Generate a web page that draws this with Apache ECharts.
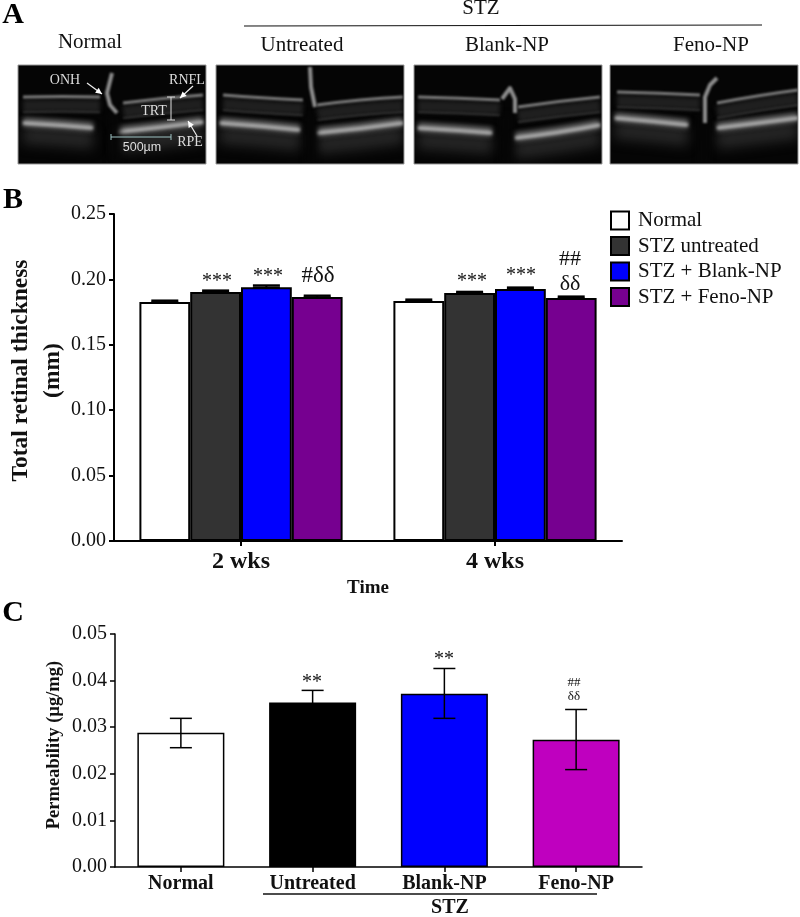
<!DOCTYPE html>
<html>
<head>
<meta charset="utf-8">
<title>Retinal thickness and permeability</title>
<script src="https://cdn.jsdelivr.net/npm/echarts@6/dist/echarts.min.js"></script>
<style>
  html, body { margin: 0; padding: 0; background: #fff; }
  #chart { width: 800px; height: 917px; }
</style>
</head>
<body>
<div id="chart"></div>
<script>
// panel B: total retinal thickness
const weeks = ['2 wks', '4 wks'];
const thicknessGroups = ['Normal', 'STZ untreated', 'STZ + Blank-NP', 'STZ + Feno-NP'];
const thicknessColors = ['#ffffff', '#333333', '#0000ff', '#760090'];
const normalThickness = [0.1827, 0.1835];
const untreatedThickness = [0.1904, 0.1896];
const blankThickness = [0.1940, 0.1927];
const fenoThickness = [0.1865, 0.1858];
const normalThicknessTop = [0.1839, 0.1847];
const untreatedThicknessTop = [0.1916, 0.1906];
const blankThicknessTop = [0.1955, 0.1939];
const fenoThicknessTop = [0.1877, 0.1870];

// panel C: permeability
const permGroups = ['Normal', 'Untreated', 'Blank-NP', 'Feno-NP'];
const permColors = ['#ffffff', '#000000', '#0000ff', '#bf00bf'];
const permValues = [0.0288, 0.0353, 0.0372, 0.0273];
const permLow = [0.0256, 0.0325, 0.0319, 0.0209];
const permHigh = [0.0319, 0.0379, 0.0426, 0.0338];

const SERIF = '"Liberation Serif", "Times New Roman", serif';
const B_BAR = 50.8;

let chart = echarts.init(document.getElementById('chart'));

// fake OCT scans, painted on a small canvas and handed over as graphic images
const scans = [
  { x: 18, gap: 95, nerve: [[[5, 32], [45, 31], [82, 32]], [[105, 38], [145, 33], [185, 30]]],
    rpe: [[[5, 58], [40, 60], [75, 63]], [[99, 67], [140, 63], [185, 57]]],
    head: [[94, 8], [89, 28], [92, 40], [99, 48]] },
  { x: 216, gap: 93, nerve: [[[7, 30], [45, 33], [87, 35]], [[101, 40], [145, 34], [187, 32]]],
    rpe: [[[4, 58], [45, 61], [84, 65]], [[101, 68], [145, 64], [187, 58]]],
    head: [[94, 2], [95, 22], [99, 42]] },
  { x: 414, gap: 90, nerve: [[[4, 32], [45, 33], [86, 35]], [[104, 42], [145, 36], [186, 32]]],
    rpe: [[[4, 63], [40, 65], [78, 68]], [[101, 73], [145, 68], [186, 60]]],
    head: [[88, 34], [96, 23], [101, 34], [101, 48]] },
  { x: 610, gap: 92, nerve: [[[7, 27], [50, 28], [90, 30]], [[107, 38], [150, 30], [188, 25]]],
    rpe: [[[5, 53], [40, 56], [78, 60]], [[107, 63], [150, 58], [188, 53]]],
    head: [[107, 13], [100, 20], [95, 32], [95, 58]] }
];

function strokeLine(ctx, pts, width, color, blur) {
  ctx.filter = 'blur(' + blur + 'px)';
  ctx.strokeStyle = color;
  ctx.lineWidth = width;
  ctx.lineCap = 'butt';
  ctx.beginPath();
  ctx.moveTo(pts[0][0], pts[0][1]);
  ctx.quadraticCurveTo(pts[1][0], pts[1][1], pts[pts.length - 1][0], pts[pts.length - 1][1]);
  ctx.stroke();
}

function paintScan(scan) {
  let c = document.createElement('canvas');
  c.width = 188;
  c.height = 99;
  let ctx = c.getContext('2d');
  ctx.fillStyle = '#050505';
  ctx.fillRect(0, 0, 188, 99);
  scan.rpe.forEach(function (r) {
    strokeLine(ctx, r.map(p => [p[0], p[1] + 12]), 18, '#262626', 6);
    strokeLine(ctx, r.map(p => [p[0], p[1] - 1]), 9, '#6a6a6a', 2.5);
    strokeLine(ctx, r, 3, '#b4b4b4', 1.5);
  });
  scan.nerve.forEach(function (n) {
    strokeLine(ctx, n.map(p => [p[0], p[1] + 9]), 12, '#1f1f1f', 2);
    strokeLine(ctx, n.map(p => [p[0], p[1] + 15]), 1.5, '#3a3a3a', 1);
    strokeLine(ctx, n, 3, '#7c7c7c', 1.2);
  });
  // dark shadow under the nerve head
  ctx.filter = 'blur(3px)';
  ctx.fillStyle = '#060606';
  ctx.fillRect(scan.gap - 3, 50, 10, 49);
  ctx.lineJoin = 'round';
  ctx.filter = 'blur(1.2px)';
  ctx.strokeStyle = '#8e8e8e';
  ctx.lineWidth = 4;
  ctx.beginPath();
  scan.head.forEach((p, i) => i ? ctx.lineTo(p[0], p[1]) : ctx.moveTo(p[0], p[1]));
  ctx.stroke();
  return c;
}

function text(x, y, str, size, extra) {
  return {
    type: 'text', x: x, y: y, silent: true,
    style: Object.assign({
      text: str, font: size + 'px ' + SERIF, fill: '#111',
      align: 'center', verticalAlign: 'middle'
    }, extra || {})
  };
}

function rule(x1, y1, x2, y2, color, width) {
  return {
    type: 'line', silent: true,
    shape: { x1: x1, y1: y1, x2: x2, y2: y2 },
    style: { stroke: color || '#111', lineWidth: width || 1.2 }
  };
}

function arrow(x1, y1, x2, y2) {
  let a = Math.atan2(y2 - y1, x2 - x1);
  let head = [[x2, y2], [x2 - 7 * Math.cos(a - 0.45), y2 - 7 * Math.sin(a - 0.45)],
    [x2 - 7 * Math.cos(a + 0.45), y2 - 7 * Math.sin(a + 0.45)]];
  return [rule(x1, y1, x2, y2, '#eee', 1.2),
    { type: 'polygon', silent: true, shape: { points: head }, style: { fill: '#fff' } }];
}

const LABEL_OCT = '#ddd';
let graphics = [];
scans.forEach(function (s) {
  graphics.push({
    type: 'image', x: s.x, y: 65, silent: true,
    style: { image: paintScan(s), width: 188, height: 99 }
  });
  graphics.push({
    type: 'rect', silent: true, shape: { x: s.x, y: 65, width: 188, height: 99 },
    style: { fill: 'none', stroke: '#999', lineWidth: 1 }
  });
});

graphics.push(
  // panel letters
  text(13, 15, 'A', 30, { font: 'bold 30px ' + SERIF, fill: '#000' }),
  text(13, 200, 'B', 30, { font: 'bold 30px ' + SERIF, fill: '#000' }),
  text(13, 613, 'C', 30, { font: 'bold 30px ' + SERIF, fill: '#000' }),

  // panel A headings
  text(90, 42, 'Normal', 21),
  text(302, 45, 'Untreated', 21),
  text(507, 45, 'Blank-NP', 21),
  text(711, 45, 'Feno-NP', 21),
  text(481, 8, 'STZ', 21),
  rule(244, 26, 762, 25),

  // labels inside the first scan
  text(65, 80, 'ONH', 14, { fill: LABEL_OCT }),
  text(187, 80, 'RNFL', 14, { fill: LABEL_OCT }),
  text(154, 111, 'TRT', 14, { fill: LABEL_OCT }),
  text(190, 142, 'RPE', 14, { fill: LABEL_OCT }),
  text(142, 148, '500µm', 12, { fill: LABEL_OCT, font: '12.5px "Liberation Sans", sans-serif' }),
  rule(171, 97, 171, 120, '#ddd', 1), rule(167, 97, 175, 97, '#ddd', 1), rule(167, 120, 175, 120, '#ddd', 1),
  rule(111, 137, 171, 137, '#9fc4c4', 1), rule(111, 134, 111, 140, '#9fc4c4', 1), rule(171, 134, 171, 140, '#9fc4c4', 1),
  ...arrow(87, 83, 102, 94),
  ...arrow(193, 86, 180, 98),
  ...arrow(197, 136, 188, 121),

  // panel B notes
  text(217, 282, '***', 20), text(268, 277, '***', 20), text(318, 276, '#δδ', 23),
  text(472, 282, '***', 20), text(521, 276, '***', 20),
  text(570, 259, '##', 22), text(570, 284, 'δδ', 22),
  text(368, 588, 'Time', 19, { font: 'bold 19px ' + SERIF }),

  // panel C notes
  text(312, 683, '**', 20), text(444, 660, '**', 20),
  text(574, 683, '##', 13), text(574, 697, 'δδ', 13),
  rule(263, 894, 597, 894, '#111', 1.3),
  text(450, 908, 'STZ', 20, { font: 'bold 20px ' + SERIF })
);

const thicknessValues = [normalThickness, untreatedThickness, blankThickness, fenoThickness];
const thicknessTops = [normalThicknessTop, untreatedThicknessTop, blankThicknessTop, fenoThicknessTop];

// thin error bar drawn through the axis scale, shifted sideways to its bar
function errorItem(offset, capWidth, lineWidth) {
  return function (params, api) {
    let i = api.value(0);
    let top = api.coord([i, api.value(2)]);
    let low = api.coord([i, api.value(1)]);
    let x = top[0] + offset;
    let st = { stroke: '#000', lineWidth: lineWidth };
    return {
      type: 'group',
      children: [
        { type: 'line', shape: { x1: x, y1: low[1], x2: x, y2: top[1] }, style: st },
        { type: 'line', shape: { x1: x - capWidth / 2, y1: top[1], x2: x + capWidth / 2, y2: top[1] }, style: st },
        { type: 'line', shape: { x1: x - capWidth / 2, y1: low[1], x2: x + capWidth / 2, y2: low[1] }, style: st }
      ]
    };
  };
}

let series = [];
thicknessGroups.forEach(function (name, s) {
  series.push({
    name: name, type: 'bar', xAxisIndex: 0, yAxisIndex: 0,
    barWidth: B_BAR, barGap: 0,
    data: thicknessValues[s],
    itemStyle: { color: thicknessColors[s], borderColor: '#000', borderWidth: 2 },
    emphasis: { disabled: true }
  });
});
thicknessGroups.forEach(function (name, s) {
  series.push({
    type: 'custom', xAxisIndex: 0, yAxisIndex: 0, silent: true, z: 5,
    renderItem: errorItem((s - 1.5) * B_BAR, 27, 2),
    data: weeks.map((w, i) => [i, thicknessValues[s][i], thicknessTops[s][i]])
  });
});
series.push({
  type: 'bar', xAxisIndex: 1, yAxisIndex: 1, barWidth: 87,
  data: permValues.map((v, i) => ({ value: v, itemStyle: { color: permColors[i] } })),
  itemStyle: { borderColor: '#000', borderWidth: 1.5 },
  emphasis: { disabled: true }
});
series.push({
  type: 'custom', xAxisIndex: 1, yAxisIndex: 1, silent: true, z: 5,
  renderItem: errorItem(0, 22, 1.5),
  data: permGroups.map((g, i) => [i, permLow[i], permHigh[i]])
});

chart.setOption({
  animation: false,
  backgroundColor: '#fff',
  textStyle: { fontFamily: SERIF },
  legend: {
    orient: 'vertical', left: 610, top: 210, padding: 0,
    itemWidth: 18, itemHeight: 18, itemGap: 4.5, icon: 'rect',
    data: thicknessGroups,
    textStyle: { fontFamily: SERIF, fontSize: 21, color: '#111', height: 18, lineHeight: 18, padding: [0, 0, 0, 4] }
  },
  grid: [
    { left: 114, top: 214, width: 508, height: 327, outerBoundsMode: 'none' },
    { left: 115, top: 634, width: 527, height: 233, outerBoundsMode: 'none' }
  ],
  xAxis: [
    {
      type: 'category', gridIndex: 0, data: weeks,
      axisLine: { lineStyle: { color: '#000', width: 2 } },
      axisTick: { show: true, alignWithLabel: true, length: 5, lineStyle: { color: '#000', width: 2 } },
      axisLabel: { color: '#111', fontFamily: SERIF, fontWeight: 'bold', fontSize: 24, margin: 9 }
    },
    {
      type: 'category', gridIndex: 1, data: permGroups,
      axisLine: { lineStyle: { color: '#000', width: 1.5 } },
      axisTick: { show: true, alignWithLabel: true, length: 5, lineStyle: { color: '#000', width: 1.5 } },
      axisLabel: { color: '#111', fontFamily: SERIF, fontWeight: 'bold', fontSize: 20, margin: 7 }
    }
  ],
  yAxis: [
    {
      type: 'value', gridIndex: 0, min: 0, max: 0.25, interval: 0.05,
      name: 'Total retinal thickness\n(mm)', nameLocation: 'middle', nameGap: 45, nameRotate: 90, nameMoveOverlap: false,
      nameTextStyle: { color: '#111', fontFamily: SERIF, fontWeight: 'bold', fontSize: 23.5, lineHeight: 32, padding: [0, 0, 0, 14] },
      splitLine: { show: false },
      axisLine: { show: true, lineStyle: { color: '#000', width: 2 } },
      axisTick: { show: true, length: 5, lineStyle: { color: '#000', width: 2 } },
      axisLabel: { color: '#111', fontFamily: SERIF, fontSize: 20, margin: 8, formatter: v => v.toFixed(2) }
    },
    {
      type: 'value', gridIndex: 1, min: 0, max: 0.05, interval: 0.01,
      name: 'Permeability (µg/mg)', nameLocation: 'middle', nameGap: 51, nameRotate: 90, nameMoveOverlap: false,
      nameTextStyle: { color: '#111', fontFamily: SERIF, fontWeight: 'bold', fontSize: 18.5, padding: [0, 0, 0, 11] },
      splitLine: { show: false },
      axisLine: { show: true, lineStyle: { color: '#000', width: 1.5 } },
      axisTick: { show: true, length: 5, lineStyle: { color: '#000', width: 1.5 } },
      axisLabel: { color: '#111', fontFamily: SERIF, fontSize: 20, margin: 8, formatter: v => v.toFixed(2) }
    }
  ],
  series: series,
  graphic: { elements: graphics }
});
</script>
</body>
</html>
